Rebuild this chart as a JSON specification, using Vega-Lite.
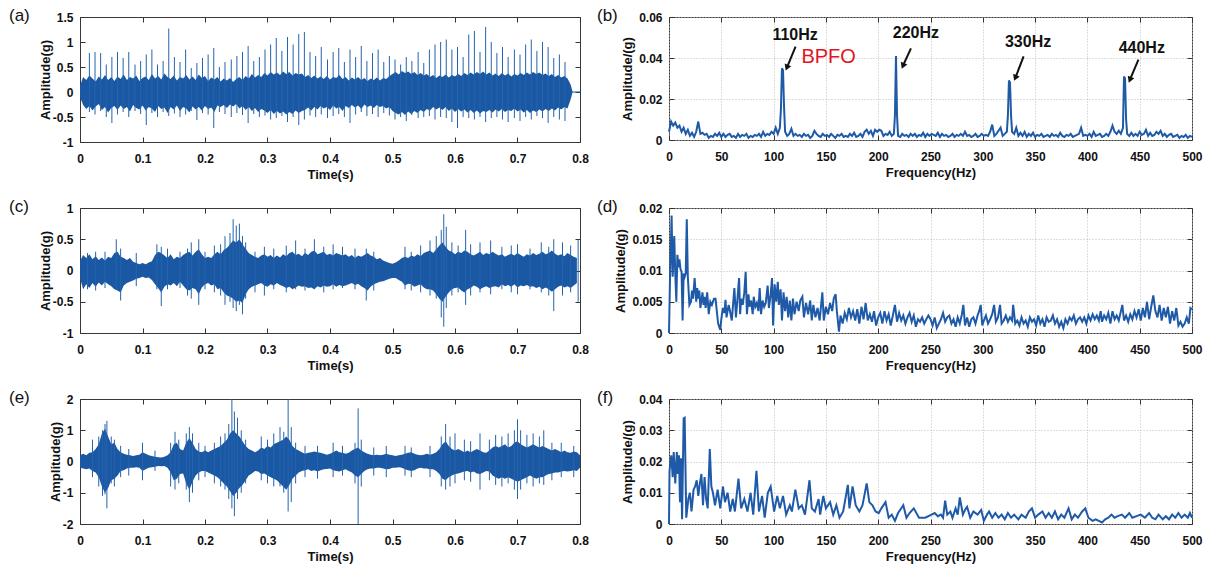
{
"$schema":"https://vega.github.io/schema/vega-lite/v6.json",
"background":"white",
"padding":{"left":8,"top":6,"right":5,"bottom":5},
"config":{
 "font":"Liberation Sans",
 "view":{"stroke":"#3a3a3a","strokeWidth":1},
 "axis":{"labelFont":"Liberation Sans","labelFontWeight":"bold","labelFontSize":12,"labelColor":"#111","titleFont":"Liberation Sans","titleFontWeight":"bold","titleFontSize":13,"titleColor":"#111","tickColor":"#333","tickSize":-5,"domain":false,"grid":false,"labelFlush":false,"labelOverlap":false,"gridColor":"#bdbdbd","gridDash":[1,2],"gridWidth":1},
 "title":{"font":"Liberation Sans","fontSize":17,"fontWeight":"normal","color":"#111","anchor":"start","frame":"group","orient":"top","offset":0,"baseline":"middle","dy":18}
},
"datasets":{
"ac":[{"t":0,"l":-0.1,"h":0.12},{"t":0.005,"l":-0.26,"h":0.3},{"t":0.01,"l":-0.34,"h":0.24},{"t":0.015,"l":-0.28,"h":0.33},{"t":0.02,"l":-0.37,"h":0.27},{"t":0.025,"l":-0.29,"h":0.21},{"t":0.03,"l":-0.24,"h":0.31},{"t":0.035,"l":-0.36,"h":0.25},{"t":0.04,"l":-0.3,"h":0.34},{"t":0.045,"l":-0.41,"h":0.24},{"t":0.05,"l":-0.32,"h":0.3},{"t":0.055,"l":-0.28,"h":0.22},{"t":0.06,"l":-0.36,"h":0.31},{"t":0.065,"l":-0.27,"h":0.26},{"t":0.07,"l":-0.34,"h":0.35},{"t":0.075,"l":-0.3,"h":0.24},{"t":0.08,"l":-0.39,"h":0.3},{"t":0.085,"l":-0.26,"h":0.27},{"t":0.09,"l":-0.32,"h":0.33},{"t":0.095,"l":-0.35,"h":0.22},{"t":0.1,"l":-0.27,"h":0.28},{"t":0.105,"l":-0.37,"h":0.31},{"t":0.11,"l":-0.3,"h":0.24},{"t":0.115,"l":-0.33,"h":0.36},{"t":0.12,"l":-0.4,"h":0.27},{"t":0.125,"l":-0.28,"h":0.32},{"t":0.13,"l":-0.34,"h":0.25},{"t":0.135,"l":-0.31,"h":0.37},{"t":0.14,"l":-0.42,"h":0.3},{"t":0.145,"l":-0.3,"h":0.26},{"t":0.15,"l":-0.35,"h":0.33},{"t":0.155,"l":-0.27,"h":0.23},{"t":0.16,"l":-0.38,"h":0.3},{"t":0.165,"l":-0.3,"h":0.27},{"t":0.17,"l":-0.33,"h":0.34},{"t":0.175,"l":-0.41,"h":0.25},{"t":0.18,"l":-0.29,"h":0.31},{"t":0.185,"l":-0.35,"h":0.24},{"t":0.19,"l":-0.3,"h":0.35},{"t":0.195,"l":-0.37,"h":0.28},{"t":0.2,"l":-0.28,"h":0.32},{"t":0.205,"l":-0.34,"h":0.22},{"t":0.21,"l":-0.31,"h":0.29},{"t":0.215,"l":-0.4,"h":0.25},{"t":0.22,"l":-0.27,"h":0.3},{"t":0.225,"l":-0.3,"h":0.21},{"t":0.23,"l":-0.26,"h":0.27},{"t":0.235,"l":-0.32,"h":0.23},{"t":0.24,"l":-0.25,"h":0.28},{"t":0.245,"l":-0.29,"h":0.2},{"t":0.25,"l":-0.24,"h":0.26},{"t":0.255,"l":-0.33,"h":0.3},{"t":0.26,"l":-0.28,"h":0.24},{"t":0.265,"l":-0.36,"h":0.32},{"t":0.27,"l":-0.3,"h":0.27},{"t":0.275,"l":-0.38,"h":0.36},{"t":0.28,"l":-0.32,"h":0.29},{"t":0.285,"l":-0.4,"h":0.34},{"t":0.29,"l":-0.34,"h":0.3},{"t":0.295,"l":-0.37,"h":0.38},{"t":0.3,"l":-0.42,"h":0.33},{"t":0.305,"l":-0.36,"h":0.4},{"t":0.31,"l":-0.44,"h":0.35},{"t":0.315,"l":-0.38,"h":0.39},{"t":0.32,"l":-0.43,"h":0.34},{"t":0.325,"l":-0.39,"h":0.41},{"t":0.33,"l":-0.45,"h":0.36},{"t":0.335,"l":-0.4,"h":0.4},{"t":0.34,"l":-0.44,"h":0.33},{"t":0.345,"l":-0.37,"h":0.38},{"t":0.35,"l":-0.42,"h":0.35},{"t":0.355,"l":-0.38,"h":0.37},{"t":0.36,"l":-0.36,"h":0.3},{"t":0.365,"l":-0.31,"h":0.34},{"t":0.37,"l":-0.37,"h":0.28},{"t":0.375,"l":-0.3,"h":0.33},{"t":0.38,"l":-0.35,"h":0.27},{"t":0.385,"l":-0.28,"h":0.31},{"t":0.39,"l":-0.33,"h":0.26},{"t":0.395,"l":-0.3,"h":0.32},{"t":0.4,"l":-0.36,"h":0.25},{"t":0.405,"l":-0.27,"h":0.3},{"t":0.41,"l":-0.33,"h":0.28},{"t":0.415,"l":-0.3,"h":0.34},{"t":0.42,"l":-0.38,"h":0.26},{"t":0.425,"l":-0.28,"h":0.3},{"t":0.43,"l":-0.32,"h":0.23},{"t":0.435,"l":-0.26,"h":0.29},{"t":0.44,"l":-0.31,"h":0.25},{"t":0.445,"l":-0.27,"h":0.3},{"t":0.45,"l":-0.34,"h":0.24},{"t":0.455,"l":-0.25,"h":0.28},{"t":0.46,"l":-0.3,"h":0.22},{"t":0.465,"l":-0.27,"h":0.27},{"t":0.47,"l":-0.32,"h":0.24},{"t":0.475,"l":-0.26,"h":0.29},{"t":0.48,"l":-0.3,"h":0.23},{"t":0.485,"l":-0.28,"h":0.28},{"t":0.49,"l":-0.33,"h":0.26},{"t":0.495,"l":-0.3,"h":0.32},{"t":0.5,"l":-0.38,"h":0.36},{"t":0.505,"l":-0.42,"h":0.4},{"t":0.51,"l":-0.45,"h":0.35},{"t":0.515,"l":-0.4,"h":0.42},{"t":0.52,"l":-0.46,"h":0.38},{"t":0.525,"l":-0.39,"h":0.41},{"t":0.53,"l":-0.44,"h":0.36},{"t":0.535,"l":-0.38,"h":0.4},{"t":0.54,"l":-0.42,"h":0.34},{"t":0.545,"l":-0.36,"h":0.38},{"t":0.55,"l":-0.4,"h":0.33},{"t":0.555,"l":-0.34,"h":0.36},{"t":0.56,"l":-0.37,"h":0.3},{"t":0.565,"l":-0.3,"h":0.34},{"t":0.57,"l":-0.35,"h":0.28},{"t":0.575,"l":-0.31,"h":0.33},{"t":0.58,"l":-0.36,"h":0.3},{"t":0.585,"l":-0.3,"h":0.35},{"t":0.59,"l":-0.38,"h":0.29},{"t":0.595,"l":-0.33,"h":0.34},{"t":0.6,"l":-0.4,"h":0.31},{"t":0.605,"l":-0.34,"h":0.36},{"t":0.61,"l":-0.39,"h":0.32},{"t":0.615,"l":-0.35,"h":0.38},{"t":0.62,"l":-0.41,"h":0.34},{"t":0.625,"l":-0.36,"h":0.39},{"t":0.63,"l":-0.42,"h":0.35},{"t":0.635,"l":-0.37,"h":0.4},{"t":0.64,"l":-0.43,"h":0.36},{"t":0.645,"l":-0.38,"h":0.41},{"t":0.65,"l":-0.4,"h":0.35},{"t":0.655,"l":-0.36,"h":0.39},{"t":0.66,"l":-0.41,"h":0.33},{"t":0.665,"l":-0.35,"h":0.37},{"t":0.67,"l":-0.39,"h":0.32},{"t":0.675,"l":-0.34,"h":0.38},{"t":0.68,"l":-0.4,"h":0.33},{"t":0.685,"l":-0.36,"h":0.37},{"t":0.69,"l":-0.38,"h":0.31},{"t":0.695,"l":-0.33,"h":0.36},{"t":0.7,"l":-0.39,"h":0.33},{"t":0.705,"l":-0.35,"h":0.38},{"t":0.71,"l":-0.41,"h":0.34},{"t":0.715,"l":-0.36,"h":0.39},{"t":0.72,"l":-0.42,"h":0.35},{"t":0.725,"l":-0.37,"h":0.4},{"t":0.73,"l":-0.4,"h":0.36},{"t":0.735,"l":-0.35,"h":0.39},{"t":0.74,"l":-0.39,"h":0.34},{"t":0.745,"l":-0.34,"h":0.37},{"t":0.75,"l":-0.38,"h":0.32},{"t":0.755,"l":-0.33,"h":0.36},{"t":0.76,"l":-0.37,"h":0.3},{"t":0.765,"l":-0.31,"h":0.34},{"t":0.77,"l":-0.35,"h":0.29},{"t":0.775,"l":-0.3,"h":0.32},{"t":0.78,"l":-0.33,"h":0.27},{"t":0.785,"l":-0.15,"h":0.15},{"t":0.788,"l":-0.012,"h":0.012},{"t":0.8,"l":-0.012,"h":0.012}],
"as":[{"t":0.015,"l":-0.4,"h":0.78},{"t":0.024,"l":-0.45,"h":0.8},{"t":0.033,"l":-0.38,"h":0.78},{"t":0.042,"l":-0.5,"h":0.55},{"t":0.051,"l":-0.62,"h":0.7},{"t":0.06,"l":-0.45,"h":0.8},{"t":0.069,"l":-0.4,"h":0.68},{"t":0.078,"l":-0.5,"h":0.8},{"t":0.088,"l":-0.38,"h":0.55},{"t":0.097,"l":-0.44,"h":0.62},{"t":0.106,"l":-0.66,"h":0.75},{"t":0.115,"l":-0.42,"h":0.85},{"t":0.124,"l":-0.5,"h":0.55},{"t":0.133,"l":-0.4,"h":0.62},{"t":0.142,"l":-0.48,"h":1.27},{"t":0.151,"l":-0.43,"h":0.7},{"t":0.16,"l":-0.5,"h":0.6},{"t":0.169,"l":-0.45,"h":0.85},{"t":0.178,"l":-0.38,"h":0.48},{"t":0.187,"l":-0.56,"h":0.58},{"t":0.196,"l":-0.42,"h":0.68},{"t":0.205,"l":-0.45,"h":0.75},{"t":0.214,"l":-0.72,"h":0.88},{"t":0.223,"l":-0.4,"h":0.5},{"t":0.232,"l":-0.44,"h":0.6},{"t":0.242,"l":-0.5,"h":0.65},{"t":0.251,"l":-0.42,"h":0.72},{"t":0.26,"l":-0.46,"h":0.8},{"t":0.269,"l":-0.62,"h":0.92},{"t":0.278,"l":-0.44,"h":0.62},{"t":0.287,"l":-0.5,"h":0.7},{"t":0.296,"l":-0.47,"h":0.85},{"t":0.305,"l":-0.55,"h":0.95},{"t":0.314,"l":-0.52,"h":1.08},{"t":0.323,"l":-0.48,"h":0.82},{"t":0.332,"l":-0.6,"h":1.1},{"t":0.341,"l":-0.5,"h":0.95},{"t":0.35,"l":-0.66,"h":1.16},{"t":0.359,"l":-0.55,"h":1.2},{"t":0.368,"l":-0.47,"h":0.8},{"t":0.377,"l":-0.5,"h":0.72},{"t":0.386,"l":-0.45,"h":0.9},{"t":0.396,"l":-0.52,"h":0.65},{"t":0.405,"l":-0.48,"h":0.8},{"t":0.414,"l":-0.44,"h":0.88},{"t":0.423,"l":-0.5,"h":0.6},{"t":0.432,"l":-0.62,"h":0.85},{"t":0.441,"l":-0.45,"h":0.7},{"t":0.45,"l":-0.4,"h":0.92},{"t":0.459,"l":-0.48,"h":0.62},{"t":0.468,"l":-0.44,"h":0.78},{"t":0.477,"l":-0.5,"h":0.85},{"t":0.486,"l":-0.42,"h":0.6},{"t":0.495,"l":-0.47,"h":0.72},{"t":0.504,"l":-0.55,"h":0.65},{"t":0.513,"l":-0.5,"h":0.55},{"t":0.522,"l":-0.58,"h":0.7},{"t":0.531,"l":-0.46,"h":0.62},{"t":0.541,"l":-0.52,"h":0.8},{"t":0.55,"l":-0.5,"h":0.58},{"t":0.559,"l":-0.48,"h":0.85},{"t":0.568,"l":-0.55,"h":0.95},{"t":0.577,"l":-0.5,"h":1.0},{"t":0.586,"l":-0.52,"h":1.05},{"t":0.595,"l":-0.6,"h":0.85},{"t":0.604,"l":-0.72,"h":0.9},{"t":0.613,"l":-0.5,"h":0.7},{"t":0.622,"l":-0.52,"h":1.15},{"t":0.631,"l":-0.55,"h":1.22},{"t":0.64,"l":-0.5,"h":0.8},{"t":0.649,"l":-0.6,"h":1.3},{"t":0.658,"l":-0.52,"h":1.0},{"t":0.667,"l":-0.5,"h":0.78},{"t":0.676,"l":-0.55,"h":0.9},{"t":0.685,"l":-0.6,"h":0.7},{"t":0.695,"l":-0.52,"h":0.85},{"t":0.704,"l":-0.58,"h":0.75},{"t":0.713,"l":-0.5,"h":0.95},{"t":0.722,"l":-0.55,"h":1.05},{"t":0.731,"l":-0.48,"h":0.82},{"t":0.74,"l":-0.52,"h":1.0},{"t":0.749,"l":-0.62,"h":0.9},{"t":0.758,"l":-0.5,"h":0.68},{"t":0.767,"l":-0.55,"h":0.75},{"t":0.776,"l":-0.58,"h":0.6}],
"cc":[{"t":0,"l":-0.12,"h":0.15},{"t":0.005,"l":-0.3,"h":0.25},{"t":0.01,"l":-0.22,"h":0.2},{"t":0.015,"l":-0.28,"h":0.26},{"t":0.02,"l":-0.2,"h":0.18},{"t":0.025,"l":-0.26,"h":0.23},{"t":0.03,"l":-0.19,"h":0.17},{"t":0.035,"l":-0.24,"h":0.21},{"t":0.04,"l":-0.18,"h":0.16},{"t":0.045,"l":-0.22,"h":0.22},{"t":0.05,"l":-0.25,"h":0.2},{"t":0.055,"l":-0.3,"h":0.28},{"t":0.06,"l":-0.32,"h":0.3},{"t":0.065,"l":-0.35,"h":0.22},{"t":0.07,"l":-0.24,"h":0.2},{"t":0.075,"l":-0.2,"h":0.17},{"t":0.08,"l":-0.18,"h":0.2},{"t":0.085,"l":-0.16,"h":0.14},{"t":0.09,"l":-0.13,"h":0.12},{"t":0.095,"l":-0.12,"h":0.1},{"t":0.1,"l":-0.1,"h":0.12},{"t":0.105,"l":-0.12,"h":0.1},{"t":0.11,"l":-0.11,"h":0.13},{"t":0.115,"l":-0.15,"h":0.15},{"t":0.12,"l":-0.22,"h":0.25},{"t":0.125,"l":-0.28,"h":0.3},{"t":0.13,"l":-0.35,"h":0.28},{"t":0.135,"l":-0.26,"h":0.24},{"t":0.14,"l":-0.22,"h":0.2},{"t":0.145,"l":-0.24,"h":0.26},{"t":0.15,"l":-0.2,"h":0.18},{"t":0.155,"l":-0.25,"h":0.22},{"t":0.16,"l":-0.18,"h":0.2},{"t":0.165,"l":-0.24,"h":0.25},{"t":0.17,"l":-0.3,"h":0.28},{"t":0.175,"l":-0.32,"h":0.3},{"t":0.18,"l":-0.28,"h":0.24},{"t":0.185,"l":-0.3,"h":0.3},{"t":0.19,"l":-0.38,"h":0.34},{"t":0.195,"l":-0.27,"h":0.26},{"t":0.2,"l":-0.22,"h":0.2},{"t":0.205,"l":-0.2,"h":0.22},{"t":0.21,"l":-0.24,"h":0.2},{"t":0.215,"l":-0.22,"h":0.26},{"t":0.22,"l":-0.3,"h":0.3},{"t":0.225,"l":-0.28,"h":0.26},{"t":0.23,"l":-0.35,"h":0.33},{"t":0.235,"l":-0.4,"h":0.36},{"t":0.24,"l":-0.42,"h":0.42},{"t":0.245,"l":-0.45,"h":0.48},{"t":0.25,"l":-0.5,"h":0.45},{"t":0.255,"l":-0.48,"h":0.5},{"t":0.26,"l":-0.52,"h":0.42},{"t":0.265,"l":-0.38,"h":0.35},{"t":0.27,"l":-0.3,"h":0.28},{"t":0.275,"l":-0.26,"h":0.25},{"t":0.28,"l":-0.24,"h":0.22},{"t":0.285,"l":-0.22,"h":0.2},{"t":0.29,"l":-0.2,"h":0.24},{"t":0.295,"l":-0.24,"h":0.26},{"t":0.3,"l":-0.26,"h":0.22},{"t":0.305,"l":-0.22,"h":0.25},{"t":0.31,"l":-0.24,"h":0.2},{"t":0.315,"l":-0.2,"h":0.24},{"t":0.32,"l":-0.23,"h":0.21},{"t":0.325,"l":-0.25,"h":0.26},{"t":0.33,"l":-0.28,"h":0.23},{"t":0.335,"l":-0.26,"h":0.28},{"t":0.34,"l":-0.3,"h":0.3},{"t":0.345,"l":-0.27,"h":0.25},{"t":0.35,"l":-0.24,"h":0.27},{"t":0.355,"l":-0.26,"h":0.23},{"t":0.36,"l":-0.25,"h":0.28},{"t":0.365,"l":-0.28,"h":0.25},{"t":0.37,"l":-0.27,"h":0.3},{"t":0.375,"l":-0.3,"h":0.32},{"t":0.38,"l":-0.25,"h":0.26},{"t":0.385,"l":-0.27,"h":0.28},{"t":0.39,"l":-0.24,"h":0.3},{"t":0.395,"l":-0.26,"h":0.25},{"t":0.4,"l":-0.25,"h":0.27},{"t":0.405,"l":-0.22,"h":0.24},{"t":0.41,"l":-0.26,"h":0.28},{"t":0.415,"l":-0.23,"h":0.26},{"t":0.42,"l":-0.25,"h":0.24},{"t":0.425,"l":-0.24,"h":0.26},{"t":0.43,"l":-0.22,"h":0.22},{"t":0.435,"l":-0.2,"h":0.25},{"t":0.44,"l":-0.23,"h":0.2},{"t":0.445,"l":-0.21,"h":0.24},{"t":0.45,"l":-0.25,"h":0.22},{"t":0.455,"l":-0.28,"h":0.25},{"t":0.46,"l":-0.32,"h":0.28},{"t":0.465,"l":-0.26,"h":0.24},{"t":0.47,"l":-0.22,"h":0.22},{"t":0.475,"l":-0.2,"h":0.18},{"t":0.48,"l":-0.18,"h":0.2},{"t":0.485,"l":-0.17,"h":0.16},{"t":0.49,"l":-0.15,"h":0.14},{"t":0.495,"l":-0.13,"h":0.12},{"t":0.5,"l":-0.12,"h":0.11},{"t":0.505,"l":-0.12,"h":0.13},{"t":0.51,"l":-0.15,"h":0.16},{"t":0.515,"l":-0.18,"h":0.2},{"t":0.52,"l":-0.24,"h":0.22},{"t":0.525,"l":-0.21,"h":0.2},{"t":0.53,"l":-0.22,"h":0.24},{"t":0.535,"l":-0.26,"h":0.22},{"t":0.54,"l":-0.24,"h":0.26},{"t":0.545,"l":-0.22,"h":0.23},{"t":0.55,"l":-0.27,"h":0.28},{"t":0.555,"l":-0.3,"h":0.3},{"t":0.56,"l":-0.3,"h":0.32},{"t":0.565,"l":-0.32,"h":0.28},{"t":0.57,"l":-0.38,"h":0.34},{"t":0.575,"l":-0.45,"h":0.4},{"t":0.58,"l":-0.5,"h":0.45},{"t":0.585,"l":-0.42,"h":0.38},{"t":0.59,"l":-0.35,"h":0.32},{"t":0.595,"l":-0.3,"h":0.3},{"t":0.6,"l":-0.28,"h":0.26},{"t":0.605,"l":-0.27,"h":0.3},{"t":0.61,"l":-0.32,"h":0.28},{"t":0.615,"l":-0.35,"h":0.32},{"t":0.62,"l":-0.3,"h":0.3},{"t":0.625,"l":-0.28,"h":0.26},{"t":0.63,"l":-0.24,"h":0.24},{"t":0.635,"l":-0.26,"h":0.27},{"t":0.64,"l":-0.3,"h":0.3},{"t":0.645,"l":-0.27,"h":0.25},{"t":0.65,"l":-0.25,"h":0.28},{"t":0.655,"l":-0.28,"h":0.26},{"t":0.66,"l":-0.26,"h":0.3},{"t":0.665,"l":-0.25,"h":0.27},{"t":0.67,"l":-0.27,"h":0.24},{"t":0.675,"l":-0.22,"h":0.26},{"t":0.68,"l":-0.25,"h":0.22},{"t":0.685,"l":-0.23,"h":0.25},{"t":0.69,"l":-0.26,"h":0.27},{"t":0.695,"l":-0.22,"h":0.24},{"t":0.7,"l":-0.27,"h":0.28},{"t":0.705,"l":-0.24,"h":0.25},{"t":0.71,"l":-0.25,"h":0.22},{"t":0.715,"l":-0.23,"h":0.26},{"t":0.72,"l":-0.26,"h":0.24},{"t":0.725,"l":-0.25,"h":0.28},{"t":0.73,"l":-0.28,"h":0.25},{"t":0.735,"l":-0.26,"h":0.27},{"t":0.74,"l":-0.3,"h":0.3},{"t":0.745,"l":-0.27,"h":0.26},{"t":0.75,"l":-0.3,"h":0.28},{"t":0.755,"l":-0.34,"h":0.32},{"t":0.76,"l":-0.3,"h":0.27},{"t":0.765,"l":-0.26,"h":0.24},{"t":0.77,"l":-0.24,"h":0.26},{"t":0.775,"l":-0.27,"h":0.23},{"t":0.78,"l":-0.25,"h":0.28},{"t":0.785,"l":-0.28,"h":0.25},{"t":0.79,"l":-0.24,"h":0.22},{"t":0.795,"l":-0.2,"h":0.2}],
"cs":[{"t":0.012,"l":-0.3,"h":0.28},{"t":0.025,"l":-0.32,"h":0.3},{"t":0.04,"l":-0.28,"h":0.3},{"t":0.058,"l":-0.3,"h":0.5},{"t":0.065,"l":-0.48,"h":0.35},{"t":0.09,"l":-0.25,"h":0.28},{"t":0.123,"l":-0.3,"h":0.42},{"t":0.13,"l":-0.57,"h":0.38},{"t":0.14,"l":-0.3,"h":0.35},{"t":0.16,"l":-0.28,"h":0.3},{"t":0.172,"l":-0.4,"h":0.35},{"t":0.178,"l":-0.45,"h":0.45},{"t":0.19,"l":-0.55,"h":0.5},{"t":0.2,"l":-0.3,"h":0.3},{"t":0.215,"l":-0.35,"h":0.4},{"t":0.225,"l":-0.4,"h":0.42},{"t":0.232,"l":-0.55,"h":0.55},{"t":0.24,"l":-0.5,"h":0.6},{"t":0.245,"l":-0.6,"h":0.82},{"t":0.25,"l":-0.65,"h":0.72},{"t":0.255,"l":-0.55,"h":0.75},{"t":0.26,"l":-0.7,"h":0.55},{"t":0.265,"l":-0.45,"h":0.45},{"t":0.28,"l":-0.35,"h":0.3},{"t":0.295,"l":-0.4,"h":0.38},{"t":0.31,"l":-0.3,"h":0.35},{"t":0.33,"l":-0.35,"h":0.4},{"t":0.345,"l":-0.3,"h":0.48},{"t":0.36,"l":-0.32,"h":0.35},{"t":0.375,"l":-0.3,"h":0.5},{"t":0.39,"l":-0.35,"h":0.38},{"t":0.405,"l":-0.3,"h":0.42},{"t":0.42,"l":-0.28,"h":0.38},{"t":0.44,"l":-0.3,"h":0.35},{"t":0.458,"l":-0.48,"h":0.35},{"t":0.47,"l":-0.32,"h":0.3},{"t":0.52,"l":-0.3,"h":0.38},{"t":0.53,"l":-0.32,"h":0.3},{"t":0.545,"l":-0.35,"h":0.4},{"t":0.56,"l":-0.4,"h":0.48},{"t":0.57,"l":-0.45,"h":0.55},{"t":0.578,"l":-0.75,"h":0.65},{"t":0.582,"l":-0.9,"h":0.9},{"t":0.586,"l":-0.6,"h":0.7},{"t":0.595,"l":-0.4,"h":0.45},{"t":0.605,"l":-0.35,"h":0.4},{"t":0.617,"l":-0.55,"h":0.65},{"t":0.625,"l":-0.4,"h":0.42},{"t":0.64,"l":-0.35,"h":0.45},{"t":0.657,"l":-0.38,"h":0.48},{"t":0.675,"l":-0.3,"h":0.38},{"t":0.69,"l":-0.35,"h":0.4},{"t":0.7,"l":-0.38,"h":0.42},{"t":0.72,"l":-0.3,"h":0.35},{"t":0.738,"l":-0.35,"h":0.45},{"t":0.75,"l":-0.4,"h":0.38},{"t":0.758,"l":-0.65,"h":0.5},{"t":0.772,"l":-0.4,"h":0.45},{"t":0.785,"l":-0.35,"h":0.4},{"t":0.797,"l":-0.5,"h":0.5}],
"ec":[{"t":0,"l":-0.2,"h":0.2},{"t":0.005,"l":-0.22,"h":0.25},{"t":0.01,"l":-0.25,"h":0.2},{"t":0.015,"l":-0.22,"h":0.28},{"t":0.02,"l":-0.3,"h":0.3},{"t":0.025,"l":-0.35,"h":0.4},{"t":0.03,"l":-0.5,"h":0.55},{"t":0.035,"l":-0.8,"h":0.9},{"t":0.04,"l":-1.0,"h":1.05},{"t":0.045,"l":-0.85,"h":0.8},{"t":0.05,"l":-0.6,"h":0.55},{"t":0.055,"l":-0.55,"h":0.6},{"t":0.06,"l":-0.45,"h":0.4},{"t":0.065,"l":-0.3,"h":0.3},{"t":0.07,"l":-0.28,"h":0.25},{"t":0.075,"l":-0.22,"h":0.22},{"t":0.08,"l":-0.2,"h":0.2},{"t":0.085,"l":-0.2,"h":0.18},{"t":0.09,"l":-0.18,"h":0.2},{"t":0.095,"l":-0.2,"h":0.22},{"t":0.1,"l":-0.3,"h":0.3},{"t":0.105,"l":-0.25,"h":0.25},{"t":0.11,"l":-0.2,"h":0.2},{"t":0.115,"l":-0.18,"h":0.18},{"t":0.12,"l":-0.17,"h":0.15},{"t":0.125,"l":-0.14,"h":0.14},{"t":0.13,"l":-0.15,"h":0.13},{"t":0.135,"l":-0.14,"h":0.15},{"t":0.14,"l":-0.2,"h":0.2},{"t":0.145,"l":-0.35,"h":0.3},{"t":0.15,"l":-0.6,"h":0.55},{"t":0.155,"l":-0.55,"h":0.6},{"t":0.16,"l":-0.4,"h":0.4},{"t":0.165,"l":-0.38,"h":0.35},{"t":0.17,"l":-0.7,"h":0.6},{"t":0.175,"l":-0.9,"h":0.75},{"t":0.18,"l":-0.65,"h":0.6},{"t":0.185,"l":-0.45,"h":0.4},{"t":0.19,"l":-0.35,"h":0.32},{"t":0.195,"l":-0.3,"h":0.3},{"t":0.2,"l":-0.3,"h":0.35},{"t":0.205,"l":-0.35,"h":0.3},{"t":0.21,"l":-0.4,"h":0.35},{"t":0.215,"l":-0.45,"h":0.4},{"t":0.22,"l":-0.5,"h":0.45},{"t":0.225,"l":-0.6,"h":0.5},{"t":0.23,"l":-0.7,"h":0.6},{"t":0.235,"l":-0.8,"h":0.7},{"t":0.24,"l":-0.95,"h":0.9},{"t":0.245,"l":-1.1,"h":1.0},{"t":0.25,"l":-1.0,"h":0.9},{"t":0.255,"l":-0.85,"h":0.8},{"t":0.26,"l":-0.75,"h":0.65},{"t":0.265,"l":-0.6,"h":0.5},{"t":0.27,"l":-0.45,"h":0.4},{"t":0.275,"l":-0.38,"h":0.35},{"t":0.28,"l":-0.3,"h":0.3},{"t":0.285,"l":-0.32,"h":0.35},{"t":0.29,"l":-0.4,"h":0.45},{"t":0.295,"l":-0.38,"h":0.4},{"t":0.3,"l":-0.45,"h":0.5},{"t":0.305,"l":-0.5,"h":0.45},{"t":0.31,"l":-0.55,"h":0.55},{"t":0.315,"l":-0.6,"h":0.6},{"t":0.32,"l":-0.7,"h":0.65},{"t":0.325,"l":-0.8,"h":0.7},{"t":0.33,"l":-0.9,"h":0.8},{"t":0.335,"l":-0.75,"h":0.7},{"t":0.34,"l":-0.55,"h":0.5},{"t":0.345,"l":-0.45,"h":0.4},{"t":0.35,"l":-0.35,"h":0.35},{"t":0.355,"l":-0.3,"h":0.3},{"t":0.36,"l":-0.28,"h":0.25},{"t":0.365,"l":-0.25,"h":0.28},{"t":0.37,"l":-0.3,"h":0.3},{"t":0.375,"l":-0.28,"h":0.32},{"t":0.38,"l":-0.32,"h":0.3},{"t":0.385,"l":-0.28,"h":0.28},{"t":0.39,"l":-0.25,"h":0.25},{"t":0.395,"l":-0.24,"h":0.22},{"t":0.4,"l":-0.22,"h":0.25},{"t":0.405,"l":-0.28,"h":0.3},{"t":0.41,"l":-0.3,"h":0.35},{"t":0.415,"l":-0.32,"h":0.3},{"t":0.42,"l":-0.28,"h":0.28},{"t":0.425,"l":-0.25,"h":0.25},{"t":0.43,"l":-0.3,"h":0.28},{"t":0.435,"l":-0.35,"h":0.35},{"t":0.44,"l":-0.45,"h":0.4},{"t":0.445,"l":-0.5,"h":0.45},{"t":0.45,"l":-0.4,"h":0.35},{"t":0.455,"l":-0.3,"h":0.3},{"t":0.46,"l":-0.25,"h":0.25},{"t":0.465,"l":-0.22,"h":0.22},{"t":0.47,"l":-0.22,"h":0.2},{"t":0.475,"l":-0.2,"h":0.22},{"t":0.48,"l":-0.2,"h":0.2},{"t":0.485,"l":-0.22,"h":0.22},{"t":0.49,"l":-0.25,"h":0.25},{"t":0.495,"l":-0.24,"h":0.22},{"t":0.5,"l":-0.2,"h":0.2},{"t":0.505,"l":-0.2,"h":0.18},{"t":0.51,"l":-0.18,"h":0.2},{"t":0.515,"l":-0.2,"h":0.22},{"t":0.52,"l":-0.25,"h":0.25},{"t":0.525,"l":-0.28,"h":0.28},{"t":0.53,"l":-0.3,"h":0.3},{"t":0.535,"l":-0.28,"h":0.25},{"t":0.54,"l":-0.22,"h":0.22},{"t":0.545,"l":-0.2,"h":0.2},{"t":0.55,"l":-0.22,"h":0.22},{"t":0.555,"l":-0.22,"h":0.25},{"t":0.56,"l":-0.25,"h":0.22},{"t":0.565,"l":-0.25,"h":0.25},{"t":0.57,"l":-0.3,"h":0.3},{"t":0.575,"l":-0.4,"h":0.4},{"t":0.58,"l":-0.55,"h":0.55},{"t":0.585,"l":-0.6,"h":0.65},{"t":0.59,"l":-0.5,"h":0.5},{"t":0.595,"l":-0.45,"h":0.4},{"t":0.6,"l":-0.4,"h":0.35},{"t":0.605,"l":-0.38,"h":0.4},{"t":0.61,"l":-0.35,"h":0.35},{"t":0.615,"l":-0.32,"h":0.3},{"t":0.62,"l":-0.3,"h":0.35},{"t":0.625,"l":-0.35,"h":0.3},{"t":0.63,"l":-0.32,"h":0.35},{"t":0.635,"l":-0.38,"h":0.4},{"t":0.64,"l":-0.4,"h":0.35},{"t":0.645,"l":-0.35,"h":0.3},{"t":0.65,"l":-0.3,"h":0.28},{"t":0.655,"l":-0.32,"h":0.35},{"t":0.66,"l":-0.45,"h":0.45},{"t":0.665,"l":-0.5,"h":0.5},{"t":0.67,"l":-0.55,"h":0.45},{"t":0.675,"l":-0.5,"h":0.5},{"t":0.68,"l":-0.55,"h":0.55},{"t":0.685,"l":-0.5,"h":0.45},{"t":0.69,"l":-0.55,"h":0.5},{"t":0.695,"l":-0.6,"h":0.6},{"t":0.7,"l":-0.65,"h":0.65},{"t":0.705,"l":-0.6,"h":0.55},{"t":0.71,"l":-0.55,"h":0.5},{"t":0.715,"l":-0.5,"h":0.45},{"t":0.72,"l":-0.45,"h":0.5},{"t":0.725,"l":-0.5,"h":0.55},{"t":0.73,"l":-0.55,"h":0.5},{"t":0.735,"l":-0.5,"h":0.45},{"t":0.74,"l":-0.5,"h":0.5},{"t":0.745,"l":-0.45,"h":0.45},{"t":0.75,"l":-0.4,"h":0.4},{"t":0.755,"l":-0.38,"h":0.35},{"t":0.76,"l":-0.35,"h":0.4},{"t":0.765,"l":-0.35,"h":0.35},{"t":0.77,"l":-0.32,"h":0.3},{"t":0.775,"l":-0.3,"h":0.35},{"t":0.78,"l":-0.32,"h":0.3},{"t":0.785,"l":-0.3,"h":0.28},{"t":0.79,"l":-0.28,"h":0.32},{"t":0.795,"l":-0.3,"h":0.3},{"t":0.8,"l":-0.2,"h":0.2}],
"es":[{"t":0.02,"l":-0.5,"h":0.7},{"t":0.03,"l":-0.8,"h":0.8},{"t":0.036,"l":-1.1,"h":1.0},{"t":0.04,"l":-1.05,"h":1.2},{"t":0.043,"l":-1.5,"h":1.3},{"t":0.05,"l":-0.7,"h":0.8},{"t":0.055,"l":-0.8,"h":0.7},{"t":0.065,"l":-0.5,"h":0.5},{"t":0.078,"l":-0.45,"h":0.4},{"t":0.1,"l":-0.6,"h":0.6},{"t":0.12,"l":-0.3,"h":0.35},{"t":0.145,"l":-0.8,"h":0.6},{"t":0.152,"l":-0.9,"h":0.95},{"t":0.158,"l":-0.7,"h":0.7},{"t":0.17,"l":-0.9,"h":0.9},{"t":0.175,"l":-1.3,"h":1.1},{"t":0.18,"l":-1.0,"h":0.9},{"t":0.19,"l":-0.6,"h":0.6},{"t":0.2,"l":-0.5,"h":0.5},{"t":0.215,"l":-0.7,"h":0.6},{"t":0.225,"l":-0.8,"h":0.8},{"t":0.232,"l":-0.9,"h":0.9},{"t":0.238,"l":-1.2,"h":1.2},{"t":0.243,"l":-1.5,"h":2.0},{"t":0.247,"l":-1.75,"h":1.6},{"t":0.252,"l":-1.2,"h":1.4},{"t":0.258,"l":-1.0,"h":1.0},{"t":0.265,"l":-0.7,"h":0.7},{"t":0.29,"l":-0.6,"h":0.8},{"t":0.3,"l":-0.7,"h":0.7},{"t":0.31,"l":-0.8,"h":0.9},{"t":0.32,"l":-0.8,"h":1.1},{"t":0.326,"l":-1.0,"h":0.95},{"t":0.333,"l":-1.6,"h":2.0},{"t":0.338,"l":-1.3,"h":1.1},{"t":0.345,"l":-0.7,"h":0.6},{"t":0.36,"l":-0.5,"h":0.5},{"t":0.38,"l":-0.55,"h":0.5},{"t":0.405,"l":-0.5,"h":0.6},{"t":0.42,"l":-0.45,"h":0.5},{"t":0.44,"l":-0.7,"h":0.6},{"t":0.445,"l":-2.0,"h":1.7},{"t":0.45,"l":-0.8,"h":0.7},{"t":0.47,"l":-0.45,"h":0.45},{"t":0.49,"l":-0.5,"h":0.5},{"t":0.52,"l":-0.45,"h":0.5},{"t":0.53,"l":-0.5,"h":0.45},{"t":0.56,"l":-0.5,"h":0.5},{"t":0.578,"l":-0.8,"h":0.8},{"t":0.585,"l":-0.9,"h":1.2},{"t":0.592,"l":-0.8,"h":0.8},{"t":0.6,"l":-0.7,"h":0.9},{"t":0.615,"l":-0.6,"h":0.7},{"t":0.625,"l":-0.65,"h":0.65},{"t":0.64,"l":-0.9,"h":0.9},{"t":0.655,"l":-0.6,"h":0.7},{"t":0.665,"l":-0.75,"h":0.85},{"t":0.675,"l":-0.8,"h":0.8},{"t":0.685,"l":-0.7,"h":0.9},{"t":0.695,"l":-0.9,"h":1.0},{"t":0.7,"l":-1.2,"h":1.35},{"t":0.705,"l":-0.9,"h":1.0},{"t":0.715,"l":-0.7,"h":0.85},{"t":0.725,"l":-0.8,"h":0.9},{"t":0.735,"l":-0.7,"h":0.8},{"t":0.742,"l":-0.75,"h":1.0},{"t":0.755,"l":-0.6,"h":0.6},{"t":0.77,"l":-0.5,"h":0.6},{"t":0.79,"l":-0.5,"h":0.5}],
"b":[{"f":0,"v":0.004},{"f":2,"v":0.009},{"f":4,"v":0.007},{"f":6,"v":0.0085},{"f":8,"v":0.006},{"f":10,"v":0.007},{"f":12,"v":0.004},{"f":14,"v":0.006},{"f":16,"v":0.003},{"f":18,"v":0.005},{"f":20,"v":0.002},{"f":22,"v":0.0035},{"f":24,"v":0.0015},{"f":26,"v":0.004},{"f":28,"v":0.009},{"f":30,"v":0.003},{"f":32,"v":0.0035},{"f":34,"v":0.0025},{"f":36,"v":0.003},{"f":38,"v":0.001},{"f":40,"v":0.002},{"f":42,"v":0.0015},{"f":44,"v":0.003},{"f":46,"v":0.002},{"f":48,"v":0.0035},{"f":50,"v":0.0015},{"f":52,"v":0.003},{"f":54,"v":0.0015},{"f":56,"v":0.0025},{"f":58,"v":0.003},{"f":60,"v":0.0015},{"f":62,"v":0.002},{"f":64,"v":0.001},{"f":66,"v":0.003},{"f":68,"v":0.0015},{"f":70,"v":0.0025},{"f":72,"v":0.002},{"f":74,"v":0.003},{"f":76,"v":0.001},{"f":78,"v":0.002},{"f":80,"v":0.0015},{"f":82,"v":0.0025},{"f":84,"v":0.002},{"f":86,"v":0.003},{"f":88,"v":0.0015},{"f":90,"v":0.004},{"f":92,"v":0.002},{"f":94,"v":0.003},{"f":96,"v":0.0025},{"f":98,"v":0.004},{"f":100,"v":0.003},{"f":102,"v":0.006},{"f":104,"v":0.003},{"f":106,"v":0.006},{"f":107,"v":0.015},{"f":108,"v":0.035},{"f":109,"v":0.034},{"f":110,"v":0.016},{"f":111,"v":0.004},{"f":113,"v":0.002},{"f":115,"v":0.003},{"f":117,"v":0.0055},{"f":119,"v":0.002},{"f":121,"v":0.003},{"f":123,"v":0.002},{"f":125,"v":0.0025},{"f":127,"v":0.0015},{"f":129,"v":0.003},{"f":131,"v":0.002},{"f":133,"v":0.0025},{"f":135,"v":0.001},{"f":137,"v":0.002},{"f":139,"v":0.0045},{"f":141,"v":0.003},{"f":143,"v":0.002},{"f":145,"v":0.0015},{"f":147,"v":0.003},{"f":149,"v":0.002},{"f":151,"v":0.0025},{"f":153,"v":0.0015},{"f":155,"v":0.003},{"f":157,"v":0.002},{"f":159,"v":0.001},{"f":161,"v":0.0025},{"f":163,"v":0.002},{"f":165,"v":0.003},{"f":167,"v":0.0015},{"f":169,"v":0.002},{"f":171,"v":0.0015},{"f":173,"v":0.003},{"f":175,"v":0.002},{"f":177,"v":0.0035},{"f":179,"v":0.0015},{"f":181,"v":0.002},{"f":183,"v":0.003},{"f":185,"v":0.0015},{"f":187,"v":0.004},{"f":189,"v":0.005},{"f":191,"v":0.003},{"f":193,"v":0.0045},{"f":195,"v":0.002},{"f":197,"v":0.005},{"f":199,"v":0.004},{"f":201,"v":0.005},{"f":203,"v":0.0045},{"f":205,"v":0.002},{"f":207,"v":0.003},{"f":209,"v":0.0025},{"f":211,"v":0.004},{"f":213,"v":0.002},{"f":215,"v":0.003},{"f":216,"v":0.012},{"f":217,"v":0.041},{"f":218,"v":0.012},{"f":219,"v":0.002},{"f":221,"v":0.0015},{"f":223,"v":0.003},{"f":225,"v":0.002},{"f":227,"v":0.0025},{"f":229,"v":0.0015},{"f":231,"v":0.003},{"f":233,"v":0.002},{"f":235,"v":0.003},{"f":237,"v":0.0015},{"f":239,"v":0.0025},{"f":241,"v":0.002},{"f":243,"v":0.0035},{"f":245,"v":0.0015},{"f":247,"v":0.003},{"f":249,"v":0.002},{"f":251,"v":0.003},{"f":253,"v":0.0025},{"f":255,"v":0.002},{"f":257,"v":0.0035},{"f":259,"v":0.0015},{"f":261,"v":0.003},{"f":263,"v":0.002},{"f":265,"v":0.0025},{"f":267,"v":0.0015},{"f":269,"v":0.002},{"f":271,"v":0.003},{"f":273,"v":0.0015},{"f":275,"v":0.0025},{"f":277,"v":0.002},{"f":279,"v":0.003},{"f":281,"v":0.002},{"f":283,"v":0.004},{"f":285,"v":0.002},{"f":287,"v":0.0025},{"f":289,"v":0.0015},{"f":291,"v":0.002},{"f":293,"v":0.003},{"f":295,"v":0.0015},{"f":297,"v":0.002},{"f":299,"v":0.003},{"f":301,"v":0.002},{"f":303,"v":0.0025},{"f":305,"v":0.002},{"f":307,"v":0.004},{"f":309,"v":0.0075},{"f":311,"v":0.002},{"f":313,"v":0.003},{"f":315,"v":0.0045},{"f":317,"v":0.006},{"f":319,"v":0.002},{"f":321,"v":0.003},{"f":323,"v":0.004},{"f":324,"v":0.012},{"f":325,"v":0.029},{"f":326,"v":0.028},{"f":327,"v":0.012},{"f":328,"v":0.004},{"f":330,"v":0.003},{"f":332,"v":0.006},{"f":334,"v":0.002},{"f":336,"v":0.0035},{"f":338,"v":0.002},{"f":340,"v":0.004},{"f":342,"v":0.0015},{"f":344,"v":0.003},{"f":346,"v":0.002},{"f":348,"v":0.0035},{"f":350,"v":0.0015},{"f":352,"v":0.0025},{"f":354,"v":0.002},{"f":356,"v":0.003},{"f":358,"v":0.0015},{"f":360,"v":0.002},{"f":362,"v":0.0025},{"f":364,"v":0.0015},{"f":366,"v":0.003},{"f":368,"v":0.002},{"f":370,"v":0.0025},{"f":372,"v":0.0015},{"f":374,"v":0.0035},{"f":376,"v":0.002},{"f":378,"v":0.0015},{"f":380,"v":0.0025},{"f":382,"v":0.002},{"f":384,"v":0.003},{"f":386,"v":0.0015},{"f":388,"v":0.002},{"f":390,"v":0.0025},{"f":392,"v":0.003},{"f":394,"v":0.006},{"f":396,"v":0.002},{"f":398,"v":0.0025},{"f":400,"v":0.002},{"f":402,"v":0.003},{"f":404,"v":0.0015},{"f":406,"v":0.004},{"f":408,"v":0.002},{"f":410,"v":0.0025},{"f":412,"v":0.003},{"f":414,"v":0.0015},{"f":416,"v":0.002},{"f":418,"v":0.003},{"f":420,"v":0.002},{"f":422,"v":0.004},{"f":424,"v":0.007},{"f":426,"v":0.004},{"f":428,"v":0.003},{"f":430,"v":0.0045},{"f":432,"v":0.003},{"f":434,"v":0.006},{"f":435,"v":0.031},{"f":436,"v":0.03},{"f":437,"v":0.01},{"f":438,"v":0.003},{"f":440,"v":0.002},{"f":442,"v":0.0035},{"f":444,"v":0.002},{"f":446,"v":0.003},{"f":448,"v":0.002},{"f":450,"v":0.004},{"f":452,"v":0.0025},{"f":454,"v":0.003},{"f":456,"v":0.005},{"f":458,"v":0.002},{"f":460,"v":0.0035},{"f":462,"v":0.002},{"f":464,"v":0.0025},{"f":466,"v":0.004},{"f":468,"v":0.003},{"f":470,"v":0.0045},{"f":472,"v":0.002},{"f":474,"v":0.003},{"f":476,"v":0.0015},{"f":478,"v":0.0025},{"f":480,"v":0.003},{"f":482,"v":0.0015},{"f":484,"v":0.002},{"f":486,"v":0.0025},{"f":488,"v":0.001},{"f":490,"v":0.002},{"f":492,"v":0.0015},{"f":494,"v":0.0025},{"f":496,"v":0.001},{"f":498,"v":0.002},{"f":500,"v":0.0015}],
"d":[{"f":0,"v":0},{"f":1,"v":0.009},{"f":2.5,"v":0.0188},{"f":3.5,"v":0.009},{"f":5,"v":0.0155},{"f":6,"v":0.0095},{"f":7,"v":0.005},{"f":8,"v":0.0125},{"f":9,"v":0.0105},{"f":10,"v":0.0118},{"f":11,"v":0.0102},{"f":12,"v":0.0098},{"f":13,"v":0.002},{"f":14,"v":0.0095},{"f":15,"v":0.009},{"f":16,"v":0.0095},{"f":17,"v":0.0182},{"f":18,"v":0.009},{"f":19.5,"v":0.0045},{"f":21,"v":0.005},{"f":22,"v":0.0068},{"f":23,"v":0.0055},{"f":24.5,"v":0.0088},{"f":26,"v":0.005},{"f":27,"v":0.0072},{"f":28,"v":0.0055},{"f":29,"v":0.0068},{"f":30,"v":0.004},{"f":32,"v":0.0065},{"f":33,"v":0.0045},{"f":34,"v":0.0058},{"f":35,"v":0.004},{"f":36.5,"v":0.0065},{"f":38,"v":0.003},{"f":39.5,"v":0.005},{"f":41,"v":0.0045},{"f":43,"v":0.0055},{"f":44.5,"v":0.0055},{"f":46,"v":0.003},{"f":47,"v":0.0015},{"f":49,"v":0.0005},{"f":50,"v":0.0022},{"f":51.5,"v":0.004},{"f":53,"v":0.0032},{"f":54,"v":0.0053},{"f":55,"v":0.0025},{"f":57,"v":0.0045},{"f":58,"v":0.0038},{"f":60,"v":0.002},{"f":61,"v":0.004},{"f":62.5,"v":0.0072},{"f":64,"v":0.0025},{"f":65,"v":0.0045},{"f":67,"v":0.0088},{"f":68,"v":0.003},{"f":69,"v":0.0055},{"f":70.5,"v":0.0045},{"f":72,"v":0.0065},{"f":73.3,"v":0.0098},{"f":74.5,"v":0.003},{"f":76,"v":0.0062},{"f":77,"v":0.0042},{"f":78.5,"v":0.0052},{"f":80,"v":0.003},{"f":81,"v":0.0058},{"f":82.5,"v":0.0042},{"f":84,"v":0.0048},{"f":85.5,"v":0.0035},{"f":86.7,"v":0.0072},{"f":88,"v":0.003},{"f":89.5,"v":0.0052},{"f":91,"v":0.0042},{"f":92.5,"v":0.0048},{"f":94.3,"v":0.0076},{"f":95.5,"v":0.004},{"f":97,"v":0.0058},{"f":98.5,"v":0.0088},{"f":99.5,"v":0.0012},{"f":101,"v":0.0078},{"f":102.5,"v":0.005},{"f":104,"v":0.0082},{"f":105,"v":0.0045},{"f":106.7,"v":0.007},{"f":108,"v":0.002},{"f":109.5,"v":0.0065},{"f":111,"v":0.0035},{"f":112.5,"v":0.0058},{"f":114,"v":0.0025},{"f":115.5,"v":0.0052},{"f":117,"v":0.002},{"f":118.5,"v":0.0055},{"f":120,"v":0.003},{"f":122,"v":0.005},{"f":124,"v":0.0035},{"f":125.5,"v":0.0052},{"f":127.5,"v":0.0058},{"f":129,"v":0.0025},{"f":131,"v":0.0048},{"f":133,"v":0.003},{"f":135,"v":0.0052},{"f":136.5,"v":0.002},{"f":138,"v":0.0045},{"f":140,"v":0.0025},{"f":142,"v":0.004},{"f":144,"v":0.002},{"f":146.6,"v":0.0065},{"f":148,"v":0.002},{"f":150,"v":0.0042},{"f":152,"v":0.003},{"f":154,"v":0.0048},{"f":156,"v":0.0035},{"f":157.5,"v":0.0055},{"f":159.3,"v":0.0062},{"f":160.5,"v":0.0035},{"f":162.5,"v":0.0002},{"f":164,"v":0.0028},{"f":166,"v":0.0015},{"f":168,"v":0.0032},{"f":170,"v":0.0022},{"f":172,"v":0.004},{"f":174,"v":0.0025},{"f":176,"v":0.0035},{"f":178,"v":0.002},{"f":180,"v":0.0038},{"f":182,"v":0.0015},{"f":184,"v":0.0042},{"f":186,"v":0.0022},{"f":188,"v":0.0048},{"f":190,"v":0.002},{"f":192,"v":0.003},{"f":194,"v":0.0018},{"f":196,"v":0.0035},{"f":198,"v":0.0012},{"f":200,"v":0.0025},{"f":202,"v":0.0032},{"f":204,"v":0.0015},{"f":206,"v":0.0035},{"f":208,"v":0.002},{"f":210,"v":0.003},{"f":212,"v":0.0012},{"f":214,"v":0.0028},{"f":216,"v":0.0045},{"f":218,"v":0.0018},{"f":220,"v":0.0032},{"f":222,"v":0.002},{"f":224,"v":0.0028},{"f":226,"v":0.0015},{"f":228,"v":0.0025},{"f":230,"v":0.0032},{"f":232,"v":0.0018},{"f":234,"v":0.0028},{"f":236,"v":0.001},{"f":238,"v":0.0022},{"f":240,"v":0.0018},{"f":242,"v":0.0025},{"f":244,"v":0.0015},{"f":246,"v":0.0022},{"f":248,"v":0.0028},{"f":250,"v":0.0022},{"f":252,"v":0.0012},{"f":254,"v":0.0025},{"f":256,"v":0.0008},{"f":258,"v":0.0015},{"f":260,"v":0.0022},{"f":262,"v":0.0032},{"f":264,"v":0.0018},{"f":266,"v":0.0025},{"f":268,"v":0.0028},{"f":270,"v":0.0015},{"f":272,"v":0.0022},{"f":274,"v":0.001},{"f":276,"v":0.0025},{"f":278,"v":0.0015},{"f":280,"v":0.003},{"f":281.4,"v":0.0045},{"f":283,"v":0.0012},{"f":285,"v":0.0025},{"f":287,"v":0.001},{"f":289,"v":0.0022},{"f":291,"v":0.0025},{"f":293,"v":0.0015},{"f":295,"v":0.0028},{"f":296.5,"v":0.0035},{"f":298,"v":0.0045},{"f":299.5,"v":0.0012},{"f":301,"v":0.002},{"f":303,"v":0.0028},{"f":305,"v":0.0015},{"f":307,"v":0.0022},{"f":309,"v":0.003},{"f":310.8,"v":0.0045},{"f":312.5,"v":0.0018},{"f":314.5,"v":0.0025},{"f":316.5,"v":0.0045},{"f":318,"v":0.0015},{"f":320,"v":0.002},{"f":322,"v":0.0028},{"f":324,"v":0.0018},{"f":326,"v":0.0025},{"f":328,"v":0.002},{"f":329,"v":0.0045},{"f":331,"v":0.0015},{"f":333,"v":0.002},{"f":335,"v":0.0012},{"f":337,"v":0.0025},{"f":339,"v":0.0015},{"f":341,"v":0.002},{"f":343,"v":0.001},{"f":345,"v":0.0025},{"f":347,"v":0.0018},{"f":349,"v":0.0022},{"f":351,"v":0.0012},{"f":353,"v":0.0028},{"f":355,"v":0.0015},{"f":357,"v":0.0022},{"f":359,"v":0.001},{"f":361,"v":0.0025},{"f":363,"v":0.0018},{"f":365,"v":0.002},{"f":367,"v":0.0028},{"f":369,"v":0.0015},{"f":371,"v":0.0022},{"f":373,"v":0.001},{"f":375,"v":0.0018},{"f":377,"v":0.0008},{"f":379,"v":0.0022},{"f":381,"v":0.0015},{"f":383,"v":0.0025},{"f":385,"v":0.002},{"f":387,"v":0.0028},{"f":389,"v":0.0015},{"f":391,"v":0.0022},{"f":393,"v":0.0025},{"f":395,"v":0.0018},{"f":397,"v":0.0025},{"f":399,"v":0.0015},{"f":401,"v":0.0028},{"f":403,"v":0.002},{"f":405,"v":0.003},{"f":407,"v":0.0022},{"f":409,"v":0.0028},{"f":411,"v":0.002},{"f":412.7,"v":0.0035},{"f":414,"v":0.0018},{"f":416,"v":0.0028},{"f":418,"v":0.0022},{"f":420,"v":0.0032},{"f":422,"v":0.0015},{"f":424,"v":0.0035},{"f":426,"v":0.0022},{"f":428,"v":0.0028},{"f":430,"v":0.002},{"f":433.4,"v":0.0045},{"f":435,"v":0.002},{"f":437,"v":0.0028},{"f":439,"v":0.0018},{"f":441,"v":0.003},{"f":443,"v":0.0022},{"f":445,"v":0.0035},{"f":447,"v":0.0025},{"f":449,"v":0.0038},{"f":451,"v":0.002},{"f":453,"v":0.004},{"f":455,"v":0.0025},{"f":457,"v":0.005},{"f":459,"v":0.0022},{"f":461,"v":0.0042},{"f":463,"v":0.006},{"f":465,"v":0.0035},{"f":467,"v":0.0025},{"f":469,"v":0.0045},{"f":471,"v":0.002},{"f":473,"v":0.004},{"f":475,"v":0.0025},{"f":477,"v":0.0042},{"f":479,"v":0.0015},{"f":481,"v":0.0035},{"f":483,"v":0.002},{"f":485,"v":0.004},{"f":487,"v":0.0012},{"f":489,"v":0.0018},{"f":491,"v":0.001},{"f":493,"v":0.0015},{"f":495,"v":0.0025},{"f":497,"v":0.0015},{"f":498.5,"v":0.004},{"f":500,"v":0.0038}],
"f":[{"f":0,"v":0},{"f":0.5,"v":0.017},{"f":2.2,"v":0.022},{"f":3.5,"v":0.015},{"f":4.5,"v":0.023},{"f":6,"v":0.013},{"f":7.5,"v":0.023},{"f":8.5,"v":0.016},{"f":9.5,"v":0.022},{"f":10.5,"v":0.007},{"f":11.5,"v":0.021},{"f":12.5,"v":0.0015},{"f":14,"v":0.0338},{"f":15,"v":0.034},{"f":16.5,"v":0.002},{"f":18.5,"v":0.008},{"f":20,"v":0.01},{"f":21.5,"v":0.004},{"f":23.5,"v":0.011},{"f":25,"v":0.012},{"f":26.5,"v":0.014},{"f":28,"v":0.009},{"f":29.5,"v":0.013},{"f":31,"v":0.016},{"f":32.5,"v":0.006},{"f":34,"v":0.015},{"f":35.5,"v":0.008},{"f":37,"v":0.005},{"f":39,"v":0.024},{"f":40.5,"v":0.012},{"f":42,"v":0.01},{"f":44,"v":0.006},{"f":46.5,"v":0.011},{"f":49,"v":0.005},{"f":51.6,"v":0.012},{"f":53.5,"v":0.007},{"f":56,"v":0.01},{"f":58.5,"v":0.004},{"f":61,"v":0.008},{"f":63,"v":0.004},{"f":66.4,"v":0.0145},{"f":69,"v":0.005},{"f":72,"v":0.008},{"f":75,"v":0.004},{"f":78,"v":0.01},{"f":80.5,"v":0.003},{"f":83.6,"v":0.017},{"f":86,"v":0.004},{"f":89,"v":0.009},{"f":91.5,"v":0.002},{"f":94.5,"v":0.01},{"f":97.2,"v":0.012},{"f":100.5,"v":0.004},{"f":103.5,"v":0.009},{"f":106,"v":0.005},{"f":109,"v":0.009},{"f":112,"v":0.003},{"f":115.5,"v":0.006},{"f":117.5,"v":0.004},{"f":120.8,"v":0.011},{"f":124,"v":0.005},{"f":127,"v":0.006},{"f":130,"v":0.003},{"f":134.3,"v":0.014},{"f":136.5,"v":0.005},{"f":139.5,"v":0.004},{"f":143,"v":0.008},{"f":144.5,"v":0.003},{"f":147.5,"v":0.009},{"f":150,"v":0.005},{"f":154,"v":0.007},{"f":157,"v":0.003},{"f":160,"v":0.006},{"f":163,"v":0.002},{"f":166.5,"v":0.004},{"f":171,"v":0.0125},{"f":172.5,"v":0.005},{"f":175.5,"v":0.012},{"f":178.5,"v":0.006},{"f":182,"v":0.004},{"f":185,"v":0.006},{"f":189,"v":0.013},{"f":191.5,"v":0.007},{"f":194.5,"v":0.006},{"f":197.5,"v":0.004},{"f":200.5,"v":0.0035},{"f":203,"v":0.005},{"f":207,"v":0.007},{"f":210,"v":0.002},{"f":213,"v":0.003},{"f":216,"v":0.001},{"f":219,"v":0.0035},{"f":224,"v":0.006},{"f":227,"v":0.002},{"f":230,"v":0.0035},{"f":234,"v":0.005},{"f":239,"v":0.002},{"f":245,"v":0.002},{"f":251,"v":0.003},{"f":254,"v":0.0035},{"f":257,"v":0.0025},{"f":260,"v":0.003},{"f":262,"v":0.002},{"f":264,"v":0.0075},{"f":266,"v":0.003},{"f":269,"v":0.004},{"f":271,"v":0.002},{"f":274,"v":0.005},{"f":276,"v":0.003},{"f":278,"v":0.0085},{"f":281,"v":0.003},{"f":283,"v":0.0045},{"f":285,"v":0.0055},{"f":288,"v":0.002},{"f":291,"v":0.004},{"f":295,"v":0.003},{"f":298.5,"v":0.0045},{"f":301,"v":0.001},{"f":304,"v":0.003},{"f":306,"v":0.004},{"f":309,"v":0.002},{"f":312,"v":0.0035},{"f":315,"v":0.002},{"f":318,"v":0.003},{"f":321,"v":0.0015},{"f":324,"v":0.0035},{"f":327,"v":0.002},{"f":330,"v":0.003},{"f":334,"v":0.0015},{"f":337,"v":0.003},{"f":341,"v":0.002},{"f":344,"v":0.004},{"f":347,"v":0.005},{"f":350,"v":0.002},{"f":353,"v":0.003},{"f":357,"v":0.004},{"f":360,"v":0.002},{"f":363,"v":0.0035},{"f":366,"v":0.002},{"f":369,"v":0.004},{"f":372,"v":0.0015},{"f":375,"v":0.003},{"f":378,"v":0.002},{"f":382,"v":0.005},{"f":385,"v":0.0015},{"f":388,"v":0.003},{"f":391,"v":0.002},{"f":395,"v":0.004},{"f":398,"v":0.005},{"f":401,"v":0.002},{"f":405,"v":0.001},{"f":408,"v":0.0015},{"f":411,"v":0.001},{"f":414,"v":0.0005},{"f":417,"v":0.0015},{"f":420,"v":0.002},{"f":423,"v":0.003},{"f":426,"v":0.002},{"f":429,"v":0.0025},{"f":433,"v":0.003},{"f":436,"v":0.002},{"f":440,"v":0.0035},{"f":443,"v":0.002},{"f":447,"v":0.0025},{"f":451,"v":0.003},{"f":455,"v":0.002},{"f":459,"v":0.0035},{"f":462,"v":0.002},{"f":465,"v":0.0015},{"f":468,"v":0.003},{"f":472,"v":0.0015},{"f":475,"v":0.0025},{"f":478,"v":0.0015},{"f":481,"v":0.003},{"f":484,"v":0.002},{"f":487,"v":0.0035},{"f":490,"v":0.002},{"f":493,"v":0.003},{"f":496,"v":0.002},{"f":498,"v":0.0035},{"f":500,"v":0.002}],
"barrows":[{"f":121,"v":0.0456,"f2":113,"v2":0.0357},{"f":231.3,"v":0.0447,"f2":224,"v2":0.0366},{"f":339,"v":0.0408,"f2":331.4,"v2":0.0307},{"f":448.8,"v":0.0392,"f2":441,"v2":0.0298}],
"blabels":[{"f":120.6,"v":0.0514,"txt":"110Hz"},{"f":236,"v":0.052,"txt":"220Hz"},{"f":343.3,"v":0.0476,"txt":"330Hz"},{"f":452,"v":0.0451,"txt":"440Hz"}],
"bpfo":[{"f":152.6,"v":0.0403,"txt":"BPFO"}]
},
"columns":2,
"bounds":"flush",
"spacing":{"row":66,"column":89},
"concat":[
{"width":500,"height":125,"title":{"text":"(a)","dx":-71},
 "layer":[
  {"data":{"name":"ac"},"mark":{"type":"area","color":"#1b58a4"},
   "encoding":{"x":{"field":"t","type":"quantitative","scale":{"domain":[0,0.8],"nice":false},"axis":{"orient":"bottom","title":"Time(s)","values":[0,0.1,0.2,0.3,0.4,0.5,0.6,0.7,0.8],"labelExpr":"''+datum.value","labelPadding":16,"titlePadding":4}},
   "y":{"field":"l","type":"quantitative","scale":{"domain":[-1,1.5],"nice":false},"axis":{"orient":"left","title":"Amplitude(g)","values":[-1,-0.5,0,0.5,1,1.5],"labelExpr":"''+datum.value","labelPadding":12,"titlePadding":0}},
   "y2":{"field":"h"}}},
  {"data":{"name":"as"},"mark":{"type":"rule","color":"#2463ae","strokeWidth":1},
   "encoding":{"x":{"field":"t","type":"quantitative","scale":{"domain":[0,0.8],"nice":false},"axis":{"orient":"top","labels":false,"title":null,"values":[0,0.1,0.2,0.3,0.4,0.5,0.6,0.7,0.8]}},
   "y":{"field":"l","type":"quantitative","scale":{"domain":[-1,1.5],"nice":false},"axis":{"orient":"right","labels":false,"title":null,"values":[-1,-0.5,0,0.5,1,1.5]}},
   "y2":{"field":"h"}}}
 ],
 "resolve":{"axis":{"x":"independent","y":"independent"}}},
{"width":523,"height":123,"title":{"text":"(b)","dx":-72},
 "layer":[
  {"data":{"name":"b"},"mark":{"type":"line","color":"#1f5aa8","strokeWidth":2},
   "encoding":{"x":{"field":"f","type":"quantitative","scale":{"domain":[0,500],"nice":false},"axis":{"orient":"bottom","title":"Frequency(Hz)","grid":true,"values":[0,50,100,150,200,250,300,350,400,450,500],"labelPadding":16,"titlePadding":4}},
   "y":{"field":"v","type":"quantitative","scale":{"domain":[0,0.06],"nice":false},"axis":{"orient":"left","title":"Amplitude/(g)","grid":true,"values":[0,0.02,0.04,0.06],"labelExpr":"''+datum.value","labelPadding":12,"titlePadding":4}}}},
  {"data":{"name":"b"},"mark":{"type":"line","opacity":0},
   "encoding":{"x":{"field":"f","type":"quantitative","scale":{"domain":[0,500],"nice":false},"axis":{"orient":"top","labels":false,"title":null,"values":[0,50,100,150,200,250,300,350,400,450,500]}},
   "y":{"field":"v","type":"quantitative","scale":{"domain":[0,0.06],"nice":false},"axis":{"orient":"right","labels":false,"title":null,"values":[0,0.02,0.04,0.06]}}}},
  {"data":{"name":"barrows"},"mark":{"type":"rule","color":"#111","strokeWidth":2},
   "encoding":{"x":{"field":"f","type":"quantitative","axis":null},"y":{"field":"v","type":"quantitative","axis":null},"x2":{"field":"f2"},"y2":{"field":"v2"}}},
  {"data":{"name":"barrows"},"mark":{"type":"point","shape":"triangle","filled":true,"color":"#111","opacity":1,"size":50,"angle":202},
   "encoding":{"x":{"field":"f2","type":"quantitative","axis":null},"y":{"field":"v2","type":"quantitative","axis":null}}},
  {"data":{"name":"blabels"},"mark":{"type":"text","font":"Liberation Sans","fontWeight":"bold","fontSize":16,"color":"#111"},
   "encoding":{"x":{"field":"f","type":"quantitative","axis":null},"y":{"field":"v","type":"quantitative","axis":null},"text":{"field":"txt"}}},
  {"data":{"name":"bpfo"},"mark":{"type":"text","font":"Liberation Sans","fontSize":20,"color":"#e0151f"},
   "encoding":{"x":{"field":"f","type":"quantitative","axis":null},"y":{"field":"v","type":"quantitative","axis":null},"text":{"field":"txt"}}}
 ],
 "resolve":{"axis":{"x":"independent","y":"independent"}}},
{"width":500,"height":125,"title":{"text":"(c)","dx":-71},
 "layer":[
  {"data":{"name":"cc"},"mark":{"type":"area","color":"#1b58a4"},
   "encoding":{"x":{"field":"t","type":"quantitative","scale":{"domain":[0,0.8],"nice":false},"axis":{"orient":"bottom","title":"Time(s)","values":[0,0.1,0.2,0.3,0.4,0.5,0.6,0.7,0.8],"labelExpr":"''+datum.value","labelPadding":16,"titlePadding":4}},
   "y":{"field":"l","type":"quantitative","scale":{"domain":[-1,1],"nice":false},"axis":{"orient":"left","title":"Amplitude(g)","values":[-1,-0.5,0,0.5,1],"labelExpr":"''+datum.value","labelPadding":12,"titlePadding":0}},
   "y2":{"field":"h"}}},
  {"data":{"name":"cs"},"mark":{"type":"rule","color":"#2463ae","strokeWidth":1},
   "encoding":{"x":{"field":"t","type":"quantitative","scale":{"domain":[0,0.8],"nice":false},"axis":{"orient":"top","labels":false,"title":null,"values":[0,0.1,0.2,0.3,0.4,0.5,0.6,0.7,0.8]}},
   "y":{"field":"l","type":"quantitative","scale":{"domain":[-1,1],"nice":false},"axis":{"orient":"right","labels":false,"title":null,"values":[-1,-0.5,0,0.5,1]}},
   "y2":{"field":"h"}}}
 ],
 "resolve":{"axis":{"x":"independent","y":"independent"}}},
{"width":523,"height":125,"title":{"text":"(d)","dx":-72},
 "layer":[
  {"data":{"name":"d"},"mark":{"type":"line","color":"#1f5aa8","strokeWidth":2},
   "encoding":{"x":{"field":"f","type":"quantitative","scale":{"domain":[0,500],"nice":false},"axis":{"orient":"bottom","title":"Frequency(Hz)","grid":true,"values":[0,50,100,150,200,250,300,350,400,450,500],"labelPadding":16,"titlePadding":4}},
   "y":{"field":"v","type":"quantitative","scale":{"domain":[0,0.02],"nice":false},"axis":{"orient":"left","title":"Amplitude/(g)","grid":true,"values":[0,0.005,0.01,0.015,0.02],"labelExpr":"''+datum.value","labelPadding":12,"titlePadding":4}}}},
  {"data":{"name":"d"},"mark":{"type":"line","opacity":0},
   "encoding":{"x":{"field":"f","type":"quantitative","scale":{"domain":[0,500],"nice":false},"axis":{"orient":"top","labels":false,"title":null,"values":[0,50,100,150,200,250,300,350,400,450,500]}},
   "y":{"field":"v","type":"quantitative","scale":{"domain":[0,0.02],"nice":false},"axis":{"orient":"right","labels":false,"title":null,"values":[0,0.005,0.01,0.015,0.02]}}}}
 ],
 "resolve":{"axis":{"x":"independent","y":"independent"}}},
{"width":500,"height":125,"title":{"text":"(e)","dx":-71},
 "layer":[
  {"data":{"name":"ec"},"mark":{"type":"area","color":"#1b58a4"},
   "encoding":{"x":{"field":"t","type":"quantitative","scale":{"domain":[0,0.8],"nice":false},"axis":{"orient":"bottom","title":"Time(s)","values":[0,0.1,0.2,0.3,0.4,0.5,0.6,0.7,0.8],"labelExpr":"''+datum.value","labelPadding":16,"titlePadding":4}},
   "y":{"field":"l","type":"quantitative","scale":{"domain":[-2,2],"nice":false},"axis":{"orient":"left","title":"Amplitude(g)","values":[-2,-1,0,1,2],"labelExpr":"''+datum.value","labelPadding":12,"titlePadding":0}},
   "y2":{"field":"h"}}},
  {"data":{"name":"es"},"mark":{"type":"rule","color":"#2463ae","strokeWidth":1},
   "encoding":{"x":{"field":"t","type":"quantitative","scale":{"domain":[0,0.8],"nice":false},"axis":{"orient":"top","labels":false,"title":null,"values":[0,0.1,0.2,0.3,0.4,0.5,0.6,0.7,0.8]}},
   "y":{"field":"l","type":"quantitative","scale":{"domain":[-2,2],"nice":false},"axis":{"orient":"right","labels":false,"title":null,"values":[-2,-1,0,1,2]}},
   "y2":{"field":"h"}}}
 ],
 "resolve":{"axis":{"x":"independent","y":"independent"}}},
{"width":523,"height":125,"title":{"text":"(f)","dx":-72},
 "layer":[
  {"data":{"name":"f"},"mark":{"type":"line","color":"#1f5aa8","strokeWidth":2},
   "encoding":{"x":{"field":"f","type":"quantitative","scale":{"domain":[0,500],"nice":false},"axis":{"orient":"bottom","title":"Frequency(Hz)","grid":true,"values":[0,50,100,150,200,250,300,350,400,450,500],"labelPadding":16,"titlePadding":4}},
   "y":{"field":"v","type":"quantitative","scale":{"domain":[0,0.04],"nice":false},"axis":{"orient":"left","title":"Amplitude/(g)","grid":true,"values":[0,0.01,0.02,0.03,0.04],"labelExpr":"''+datum.value","labelPadding":12,"titlePadding":4}}}},
  {"data":{"name":"f"},"mark":{"type":"line","opacity":0},
   "encoding":{"x":{"field":"f","type":"quantitative","scale":{"domain":[0,500],"nice":false},"axis":{"orient":"top","labels":false,"title":null,"values":[0,50,100,150,200,250,300,350,400,450,500]}},
   "y":{"field":"v","type":"quantitative","scale":{"domain":[0,0.04],"nice":false},"axis":{"orient":"right","labels":false,"title":null,"values":[0,0.01,0.02,0.03,0.04]}}}}
 ],
 "resolve":{"axis":{"x":"independent","y":"independent"}}}
]
}
